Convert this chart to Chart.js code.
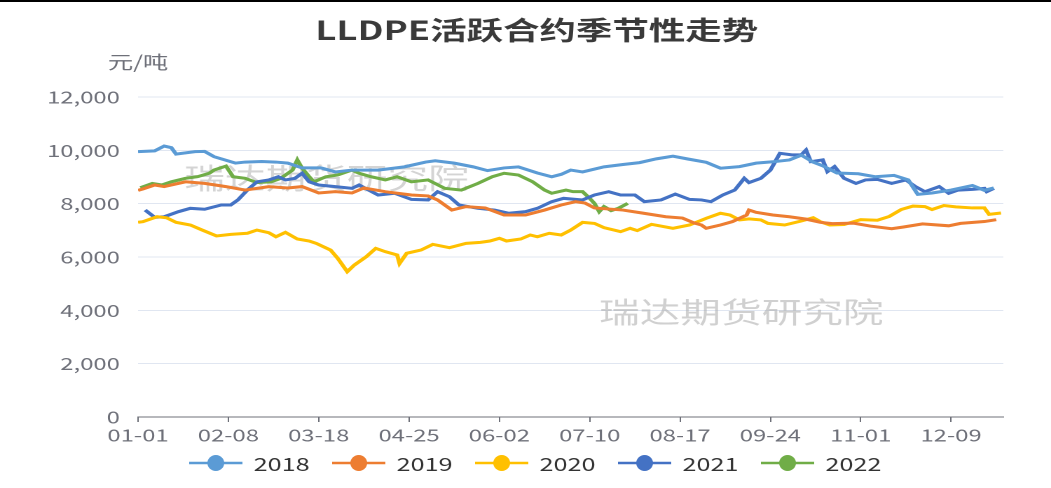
<!DOCTYPE html>
<html><head><meta charset="utf-8">
<script src="https://cdn.jsdelivr.net/npm/chart.js@4/dist/chart.umd.min.js"></script>
<style>
html,body{margin:0;padding:0;background:#fff;overflow:hidden;width:1051px;height:488px;}
#wrap{position:absolute;left:0;top:0;width:750px;height:488px;transform:scaleX(1.40133);transform-origin:0 0;}
</style></head><body>
<div id="wrap"><canvas id="c"></canvas></div>
<script>
const chartTitle = 'LLDPE活跃合约季节性走势';
const unitLabel = '元/吨';
const watermarkText = '瑞达期货研究院';
const tickDays = [0,38,76,114,152,190,228,266,304,342];
const tickLabels = ['01-01','02-08','03-18','04-25','06-02','07-10','08-17','09-24','11-01','12-09'];
const seriesNames = ['2018','2019','2020','2021','2022'];
const seriesColors = ['#5B9BD5','#ED7D31','#FFC000','#4472C4','#70AD47'];

const days2018 = [0,7,11,14,16,24,28,32,41,45,52,58,63,69,77,83,90,101,112,121,125,133,141,147,154,160,168,174,178,182,187,196,204,211,218,225,231,239,245,253,260,267,274,279,284,288,294,303,310,318,324,328,334,342,351,356,360];
const vals2018 = [9950,9980,10160,10100,9860,9950,9960,9760,9520,9560,9580,9560,9520,9340,9340,9190,9260,9260,9380,9560,9610,9520,9380,9240,9340,9380,9150,9010,9100,9260,9190,9380,9470,9540,9680,9780,9680,9550,9330,9390,9520,9570,9640,9820,9560,9420,9150,9120,9010,9060,8890,8350,8400,8510,8680,8500,8590];

const days2019 = [0,2,7,11,20,28,37,45,55,63,69,76,83,90,95,104,115,122,126,132,138,146,154,163,171,178,184,188,192,204,212,222,229,234,237,239,245,250,256,257,260,267,274,281,287,292,301,308,317,322,330,341,346,356,361];
const vals2019 = [8500,8550,8700,8640,8820,8760,8640,8510,8640,8590,8640,8400,8450,8400,8590,8450,8325,8290,8140,7760,7890,7840,7575,7575,7760,7950,8075,8025,7840,7760,7650,7510,7460,7275,7200,7075,7200,7325,7575,7760,7675,7575,7510,7420,7300,7250,7270,7160,7060,7125,7240,7170,7260,7330,7400];

const days2020 = [0,2,8,12,16,22,27,33,39,46,50,55,58,62,67,72,75,81,84,88,91,96,100,104,109,110,113,119,124,131,138,144,148,152,155,161,165,168,173,178,182,187,192,196,203,207,210,216,225,232,239,245,249,253,257,262,265,272,279,284,287,291,297,304,311,316,321,326,331,334,339,344,351,356,358,363];
const vals2020 = [7300,7325,7510,7470,7300,7200,7010,6790,6850,6890,7010,6910,6760,6925,6675,6600,6510,6260,5950,5450,5700,6010,6325,6200,6075,5760,6140,6260,6475,6350,6510,6550,6600,6700,6600,6675,6825,6760,6890,6825,7010,7300,7260,7100,6950,7075,6990,7225,7075,7200,7450,7640,7575,7390,7430,7390,7260,7200,7350,7475,7325,7200,7220,7400,7380,7520,7780,7910,7890,7780,7930,7880,7840,7840,7600,7650];

const days2021 = [3,7,11,17,22,28,35,39,42,46,50,55,59,62,66,69,72,76,83,90,93,97,101,108,115,122,126,131,135,143,150,156,163,168,174,179,187,192,198,203,209,213,220,226,232,237,241,246,251,255,257,262,266,270,275,279,281,283,288,290,293,297,302,306,311,317,323,327,331,337,341,345,351,356,357,360];
const vals2021 = [7760,7490,7510,7700,7825,7790,7950,7950,8140,8510,8820,8890,9010,8890,8950,9140,8820,8700,8640,8575,8700,8510,8325,8390,8160,8140,8450,8260,7950,7825,7760,7640,7700,7825,8075,8200,8140,8325,8450,8325,8325,8075,8140,8360,8160,8140,8075,8325,8510,8950,8790,8950,9260,9890,9830,9830,10010,9575,9640,9200,9390,8950,8760,8890,8910,8760,8890,8640,8450,8640,8390,8510,8535,8575,8450,8575];

const days2022 = [1,6,10,14,20,25,30,32,37,40,45,50,56,60,65,67,69,72,74,79,84,90,93,98,104,109,115,122,129,136,143,149,154,160,166,171,174,180,183,187,190,192,194,196,199,202,206];
const vals2022 = [8600,8760,8700,8820,8950,9010,9140,9260,9410,9010,8950,8790,8820,8950,9260,9640,9330,9010,8820,9010,9075,9260,9140,9010,8890,9010,8820,8890,8575,8510,8760,9010,9140,9075,8820,8510,8390,8510,8450,8450,8200,8010,7700,7890,7740,7825,8010];

const seriesDays = [days2018, days2019, days2020, days2021, days2022];
const seriesVals = [vals2018, vals2019, vals2020, vals2021, vals2022];

const FONT = '"Noto Sans CJK SC", "Noto Sans", sans-serif';

const decor = {
  id: 'decor',
  beforeDatasetsDraw(chart) {
    const ctx = chart.ctx;
    ctx.save();
    ctx.textAlign = 'center';
    ctx.textBaseline = 'middle';
    ctx.font = '29px ' + FONT;
    ctx.fillStyle = 'rgba(160,160,160,0.45)';
    ctx.fillText(watermarkText, 233, 178);
    ctx.fillStyle = 'rgba(170,170,170,0.55)';
    ctx.fillText(watermarkText, 529, 312);
    ctx.restore();
  },
  afterDraw(chart) {
    const ctx = chart.ctx;
    ctx.save();
    ctx.fillStyle = '#000';
    ctx.fillRect(0, 0, chart.width, 2);
    ctx.textAlign = 'center';
    ctx.textBaseline = 'middle';
    ctx.fillStyle = '#3a3a3a';
    ctx.font = 'bold 26px ' + FONT;
    ctx.fillText(chartTitle, 383, 30);
    ctx.fillStyle = '#6E7079';
    ctx.font = '18px ' + FONT;
    ctx.fillText(unitLabel, 98.5, 62);
    // legend
    const y = 463;
    chart.data.datasets.forEach((ds, i) => {
      const x0 = 135 + i * 102;
      ctx.strokeStyle = ds.borderColor;
      ctx.lineWidth = 2.5;
      ctx.beginPath();
      ctx.moveTo(x0, y);
      ctx.lineTo(x0 + 38, y);
      ctx.stroke();
      ctx.fillStyle = ds.borderColor;
      ctx.beginPath();
      ctx.ellipse(x0 + 19, y, 6, 8, 0, 0, Math.PI * 2);
      ctx.fill();
      ctx.fillStyle = '#333';
      ctx.textAlign = 'left';
      ctx.font = '18px ' + FONT;
      ctx.fillText(ds.label, x0 + 46, y + 1);
    });
    ctx.restore();
  }
};

const datasets = seriesNames.map((name, i) => ({
  label: name,
  data: seriesDays[i].map((d, j) => ({x: d, y: seriesVals[i][j]})),
  borderColor: seriesColors[i],
  backgroundColor: seriesColors[i],
  borderWidth: 3,
  pointRadius: 0,
  tension: 0,
  fill: false
}));

new Chart(document.getElementById('c'), {
  type: 'line',
  data: { datasets },
  options: {
    responsive: true,
    maintainAspectRatio: false,
    animation: false,
    devicePixelRatio: 2,
    layout: { padding: { top: 97, right: 34, bottom: 41, left: 0 } },
    plugins: { legend: { display: false }, title: { display: false }, tooltip: { enabled: false } },
    scales: {
      x: {
        type: 'linear', min: 0, max: 364,
        afterBuildTicks: s => { s.ticks = tickDays.map(v => ({ value: v })); },
        afterFit: s => { s.height = 30; },
        grid: { drawOnChartArea: false, drawTicks: true, tickLength: 5, color: '#6E7079' },
        border: { display: true, color: '#6E7079', width: 1 },
        ticks: {
          autoSkip: false, maxRotation: 0, minRotation: 0, padding: 3,
          color: '#6E7079', font: { size: 17, family: FONT },
          callback: v => tickLabels[tickDays.indexOf(v)]
        }
      },
      y: {
        min: 0, max: 12000,
        afterFit: s => { s.width = 98.5; },
        grid: { color: '#E0E6F1', drawTicks: false },
        border: { display: false },
        ticks: {
          stepSize: 2000, padding: 13,
          color: '#6E7079', font: { size: 17, family: FONT },
          callback: v => v.toLocaleString('en-US')
        }
      }
    }
  },
  plugins: [decor]
});
</script>
</body></html>
